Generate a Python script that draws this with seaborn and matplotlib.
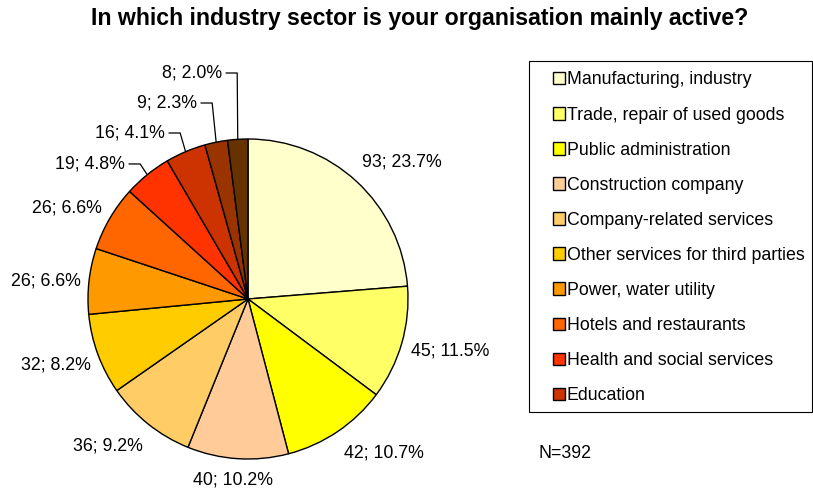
import matplotlib
matplotlib.use("Agg")
import matplotlib.pyplot as plt
from matplotlib.patches import Rectangle
import seaborn as sns
import numpy as np

# Datos
conteos = [93, 45, 42, 40, 36, 32, 26, 26, 19, 16, 9, 8]
porcentajes = [23.7, 11.5, 10.7, 10.2, 9.2, 8.2, 6.6, 6.6, 4.8, 4.1, 2.3, 2.0]
sectores = ['Manufacturing, industry', 'Trade, repair of used goods', 'Public administration',
            'Construction company', 'Company-related services', 'Other services for third parties',
            'Power, water utility', 'Hotels and restaurants', 'Health and social services', 'Education']
colores = ['#FFFFCC', '#FFFF66', '#FFFF00', '#FFCC99', '#FFCC66', '#FFCC00',
           '#FF9900', '#FF6600', '#FF3300', '#CC3300', '#993300', '#663300']
total = 392

# Posiciones de las etiquetas (centro del texto, coordenadas del pastel)
pos_etiquetas = [(0.96, 0.858), (1.263, -0.323), (0.85, -0.965), (-0.092, -1.131),
                 (-0.873, -0.919), (-1.199, -0.4125), (-1.264, 0.114), (-1.133, 0.567)]
# Etiquetas con línea guía (extremo derecho del texto)
pos_guias = [(-0.769, 0.844), (-0.519, 1.0375), (-0.319, 1.225), (-0.1625, 1.4125)]

sns.set_style("white")
plt.rcParams['font.family'] = ['Liberation Sans', 'DejaVu Sans']
plt.rcParams['text.color'] = 'black'

fig = plt.figure(figsize=(8.13, 4.9), dpi=100)
ax = fig.add_axes([88 / 813, 31 / 490, 320 / 813, 320 / 490])

wedges, _ = ax.pie(conteos, colors=sns.color_palette(colores), startangle=90, counterclock=False,
                   radius=1.0, wedgeprops=dict(edgecolor='black', linewidth=1))
ax.set_xlim(-1, 1)
ax.set_ylim(-1, 1)

fs = 12.75
textos = [f"{c}; {p:.1f}%" for c, p in zip(conteos, porcentajes)]
for t, (x, y) in zip(textos[:8], pos_etiquetas):
    ax.text(x, y, t, ha='center', va='center', fontsize=fs, clip_on=False)

for i, (x, y) in enumerate(pos_guias):
    w = wedges[8 + i]
    ang = np.deg2rad((w.theta1 + w.theta2) / 2)
    px, py = np.cos(ang), np.sin(ang)
    ax.text(x, y, textos[8 + i], ha='right', va='center', fontsize=fs, clip_on=False)
    codo = min(x + 0.095, px)
    ax.plot([x + 0.025, codo, px], [y, y, py], color='black', linewidth=0.9, clip_on=False)

fig.text(420 / 813, 1 - 18 / 490, 'In which industry sector is your organisation mainly active?',
         ha='center', va='center', fontsize=16.7, fontweight='bold')

leg = fig.legend(handles=wedges[:10], labels=sectores, loc='upper left',
                 bbox_to_anchor=(553 / 813, 1 - 71.5 / 490), frameon=False,
                 fontsize=fs, handlelength=0.7, handleheight=0.7,
                 handletextpad=0.08, labelspacing=1.02, borderpad=0, borderaxespad=0)

# Marco de la leyenda
fig.patches.append(Rectangle((529 / 813, 1 - 412 / 490), 283 / 813, 351 / 490,
                             transform=fig.transFigure, fill=False, edgecolor='black', linewidth=0.8))

fig.text(538 / 813, 1 - 453 / 490, 'N=392', ha='left', va='center', fontsize=fs)

fig.savefig('out.png', dpi=100)
